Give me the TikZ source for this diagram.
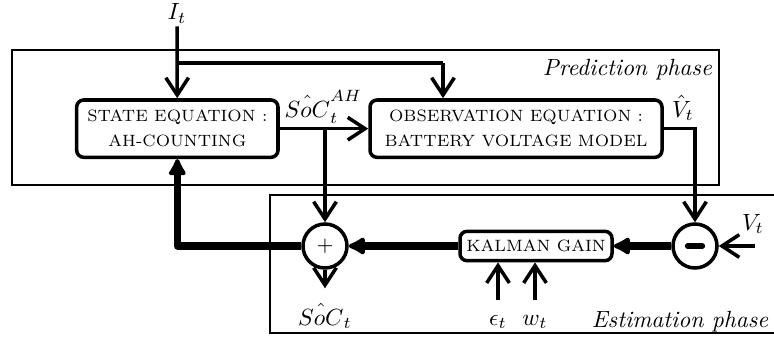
\documentclass[tikz,border=0pt]{standalone}
\usepackage{tikz}
\usetikzlibrary{
  arrows.meta,
  calc,
  positioning
}

\begin{document}
\begin{tikzpicture}[
  block/.style={draw, line width=1.5pt, rounded corners=3pt, minimum height=0.86cm,
                align=center, font=\scriptsize, inner sep=2pt},
  sumnode/.style={draw, line width=1.5pt, circle, minimum size=0.66cm, inner sep=0pt},
  phase/.style={draw, line width=0.8pt},
  lbl/.style={inner sep=1pt},
  iolbl/.style={anchor=base, inner xsep=1pt, inner ysep=6pt},
  arr/.style={-{Straight Barb[length=2.6mm, width=3.4mm]}, line width=1.5pt},
  bigarr/.style={-{Latex[round, length=3mm, width=3.2mm]}, line width=3pt,
                 line join=round}
]

\clip (0,0) rectangle (11.61,-5.055);

% Phases
\draw[phase] (0.18,-0.75) rectangle (10.785,-2.775);
\draw[phase] (4.05,-2.925) rectangle (11.8,-4.995);
\node[font=\itshape] (pred) at (9.41,-1.05) {Prediction phase};
\node[font=\itshape] (est) at (10.2,-4.82) {Estimation phase};

\node[block, minimum width=3.02cm] at (2.66,-1.93) (state)
  {STATE EQUATION :\\[2.6pt] AH-COUNTING};
\node[block, minimum width=4.38cm] at (7.74,-1.93) (obs)
  {OBSERVATION EQUATION :\\[2.6pt] BATTERY VOLTAGE MODEL};
\node[block, minimum width=2.28cm, minimum height=0.44cm] at (8.04,-3.69) (kalman)
  {KALMAN GAIN};
\node[sumnode] at (4.875,-3.69) (plus) {\small$+$};
\node[sumnode] at (10.425,-3.69) (minus) {};
\draw[line width=2.4pt, line cap=round] ([xshift=-0.11cm]minus.center) -- ([xshift=0.11cm]minus.center);

% Inputs and outputs
\node[lbl, anchor=base] at (2.655,-0.3) (cur) {$I_t$};
\node[lbl] at (4.85,-1.6) (socah) {$\hat{SoC}_t^{AH}$};
\node[lbl] at (10.245,-1.62) (vhat) {$\hat{V}_t$};
\node[lbl] at (11.295,-3.36) (volt) {$V_t$};
\node[iolbl] at (4.875,-4.875) (soc) {$\hat{SoC}_t$};
\node[iolbl] at (7.47,-4.875) (eps) {$\epsilon_t$};
\node[iolbl] at (8.025,-4.875) (noise) {$w_t$};
\coordinate (split) at (2.655,-0.945);
\coordinate (obsin) at (6.645,-0.945);
\coordinate (voltin) at (11.325,-3.69);

\draw[arr] (cur) -- (state);
\draw[line width=1.5pt] (split) -- (obsin);
\draw[arr] (obsin) -- (obsin |- obs.north);
\draw[arr] (state) -- (obs);
\draw[arr] (plus |- state.east) -- (plus);
\draw[arr] (obs) -| (minus);
\draw[arr] (voltin) -- (minus);
\draw[bigarr] (minus) -- (kalman);
\draw[bigarr] (kalman) -- (plus);
\draw[bigarr] (plus) -| (state);
\draw[arr] (plus) -- (soc);
\draw[arr] (eps) -- (eps |- kalman.south);
\draw[arr] (noise) -- (noise |- kalman.south);

\end{tikzpicture}
\end{document}
